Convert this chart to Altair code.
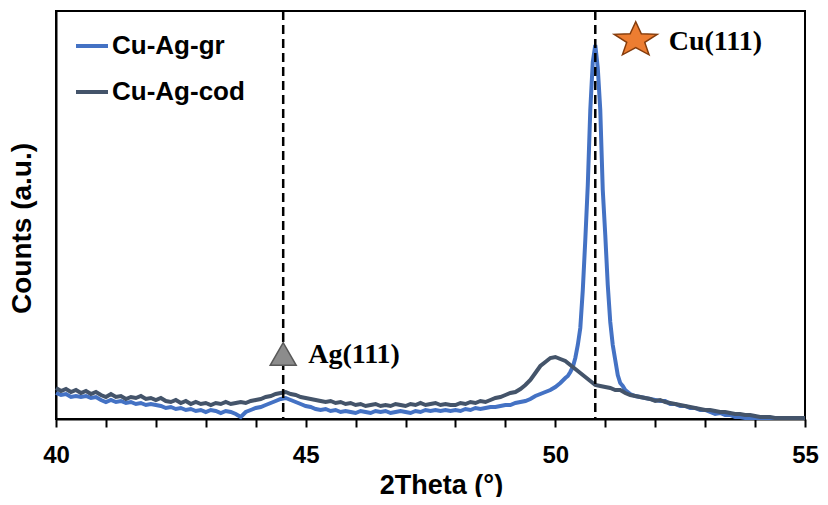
import altair as alt
import pandas as pd

# ---------------- data ----------------
series_names = ["Cu-Ag-gr", "Cu-Ag-cod"]
series_colors = ["#4472C4", "#44546A"]

# 2Theta grid for Cu-Ag-cod (0.1 deg steps, 40 -> 55)
cod_theta = [round(40 + 0.1 * i, 2) for i in range(151)]
cod_counts = [
    31, 28, 30, 27, 29, 26, 28, 25, 27, 24,   # 40.x
    22, 25, 22, 23, 20, 22, 21, 23, 20, 21,   # 41.x
    19, 21, 18, 17, 19, 16, 18, 15, 17, 15,   # 42.x
    16, 14, 16, 15, 17, 15, 16, 17, 16, 18,   # 43.x
    19, 20, 22, 23, 25, 26, 27, 25, 24, 22,   # 44.x
    21, 20, 19, 18, 17, 18, 16, 17, 15, 16,   # 45.x
    14, 15, 13, 14, 15, 13, 14, 13, 15, 14,   # 46.x
    13, 15, 14, 16, 14, 15, 16, 14, 15, 14,   # 47.x
    14, 16, 15, 17, 16, 18, 17, 19, 21, 22,   # 48.x
    24, 26, 27, 30, 34, 39, 46, 53, 57, 61,   # 49.x
    62, 60, 58, 54, 50, 46, 42, 38, 34, 33,   # 50.x
    32, 31, 29, 29, 26, 24, 23, 22, 21, 20,   # 51.x
    18, 19, 17, 16, 15, 14, 13, 12, 11, 10,   # 52.x
    9, 9, 8, 7, 7, 6, 5, 5, 4, 4,             # 53.x
    3, 2, 2, 2, 1, 1, 1, 1, 1, 1,             # 54.x
    1,                                        # 55.0
]

# 2Theta grid for Cu-Ag-gr (finer around the Cu(111) peak)
gr_theta = ([round(40 + 0.1 * i, 2) for i in range(103)]
            + [round(50.25 + 0.05 * i, 2) for i in range(24)]
            + [round(51.5 + 0.1 * i, 2) for i in range(36)])
gr_counts = [
    26, 24, 25, 22, 23, 22, 23, 21, 22, 19,   # 40.x
    17, 19, 17, 18, 16, 17, 15, 16, 14, 15,   # 41.x
    14, 13, 11, 12, 10, 11, 9, 10, 8, 9,      # 42.x
    7, 9, 8, 6, 8, 7, 5, 2, 7, 9,             # 43.x
    11, 12, 14, 16, 18, 20, 21, 19, 17, 15,   # 44.x
    13, 12, 10, 9, 10, 8, 9, 7, 8, 7,         # 45.x
    6, 8, 7, 6, 8, 7, 8, 6, 7, 8,             # 46.x
    7, 6, 8, 7, 9, 8, 9, 8, 9, 8,             # 47.x
    9, 8, 10, 9, 11, 10, 11, 12, 12, 13,      # 48.x
    14, 14, 16, 17, 18, 20, 23, 25, 27, 29,   # 49.x
    32, 36, 41,                               # 50.0 - 50.2
    43, 47, 52, 61, 74, 91, 129, 179, 234, 309, 357, 374,   # 50.25 - 50.8
    351, 309, 229, 184, 134, 97, 74, 59, 44, 36, 33, 29,    # 50.85 - 51.4
    25, 23, 22, 21, 20,                       # 51.5 - 51.9
    19, 18, 18, 15, 15, 13, 13, 11, 11, 9,    # 52.x
    9, 7, 5, 6, 4, 4, 2, 2, 1, 1,             # 53.x
    1, 1, 1, 1, 1, 1, 1, 1, 1, 1,             # 54.x
    1,                                        # 55.0
]

# reference peak positions (dashed lines)
peak_theta = [44.55, 50.8]

# annotations
ann_labels = ["Cu(111)", "Ag(111)"]
ann_text_theta = [52.27, 45.05]
ann_text_counts = [369, 56]
ann_marker_theta = [51.61, 44.55]
ann_marker_counts = [379, 65]
STAR = ("M0,-0.851L0.26,-0.289L1,-0.263L0.42,0.111L0.618,0.688L0,0.357"
        "L-0.618,0.688L-0.42,0.111L-1,-0.263L-0.26,-0.289Z")
ann_shapes = [STAR, "triangle-up"]
ann_fill = ["#ED7D31", "#8C8C8C"]
ann_stroke = ["#843C0C", "#595959"]
ann_size = [1849, 676]

# ---------------- tables ----------------
df_gr = pd.DataFrame({"theta": gr_theta, "counts": gr_counts, "sample": series_names[0]})
df_cod = pd.DataFrame({"theta": cod_theta, "counts": cod_counts, "sample": series_names[1]})
df_peaks = pd.DataFrame({"theta": peak_theta})
df_ann = pd.DataFrame({
    "label": ann_labels, "tx": ann_text_theta, "ty": ann_text_counts,
    "mx": ann_marker_theta, "my": ann_marker_counts,
})

SANS = "Liberation Sans"
SERIF = "Liberation Serif"

x_scale = alt.Scale(domain=[40, 55], nice=False, zero=False)
y_scale = alt.Scale(domain=[0, 408], nice=False)
color_scale = alt.Scale(domain=series_names, range=series_colors)

x_axis = alt.Axis(
    title="2Theta (°)", values=list(range(40, 56)),
    labelExpr="datum.value % 5 == 0 ? datum.label : ''",
    grid=False, domainColor="black", domainWidth=2,
    tickColor="black", tickWidth=2, tickSize=8,
    labelFont=SANS, labelFontSize=24, labelFontWeight="bold", labelColor="black",
    labelPadding=16, labelFlush=False,
    titleFont=SANS, titleFontSize=27, titleFontWeight="bold", titleColor="black",
    titleX=385, titleY=66, titleBaseline="middle", titleAlign="center",
)
y_axis = alt.Axis(
    title="Counts (a.u.)", ticks=False, labels=False, grid=False,
    domainColor="black", domainWidth=2,
    titleFont=SANS, titleFontSize=28, titleFontWeight="bold", titleColor="black",
    titleAngle=270, titleX=-34, titleY=217, titleBaseline="middle", titleAlign="center",
)

legend = alt.Legend(
    title=None, orient="none", legendX=18, legendY=17, padding=0,
    symbolType="stroke", symbolSize=1024, symbolStrokeWidth=4,
    labelFont=SANS, labelFontSize=26, labelFontWeight="bold", labelColor="black",
    labelOffset=2, rowPadding=15,
)

gr_line = alt.Chart(df_gr).mark_line(strokeWidth=4).encode(
    x=alt.X("theta:Q", scale=x_scale, axis=x_axis),
    y=alt.Y("counts:Q", scale=y_scale, axis=y_axis),
    color=alt.Color("sample:N", scale=color_scale, legend=legend),
)
cod_line = alt.Chart(df_cod).mark_line(strokeWidth=4).encode(
    x=alt.X("theta:Q"),
    y=alt.Y("counts:Q"),
    color=alt.Color("sample:N"),
)

rules = alt.Chart(df_peaks).mark_rule(color="black", strokeWidth=2.5, strokeDash=[9, 5]).encode(
    x=alt.X("theta:Q"),
)

markers = []
for i in range(len(ann_labels)):
    sub = df_ann.iloc[[i]]
    markers.append(
        alt.Chart(sub).mark_point(
            shape=ann_shapes[i], filled=True, fill=ann_fill[i], stroke=ann_stroke[i],
            strokeWidth=1.5, size=ann_size[i], opacity=1,
        ).encode(x=alt.X("mx:Q"), y=alt.Y("my:Q"))
    )

texts = alt.Chart(df_ann).mark_text(
    font=SERIF, fontSize=28, fontWeight="bold", color="black", align="left", baseline="alphabetic",
).encode(
    x=alt.X("tx:Q"), y=alt.Y("ty:Q"), text="label:N",
)

chart = alt.layer(gr_line, cod_line, rules, *markers, texts).properties(
    width=749, height=408,
    autosize=alt.AutoSizeParams(type="none"),
    padding={"left": 48, "top": 3, "right": 15, "bottom": 78},
    background="white",
).configure_view(stroke="black", strokeWidth=2)

chart.save("out.html", embed_options={"renderer": "svg", "actions": False})
